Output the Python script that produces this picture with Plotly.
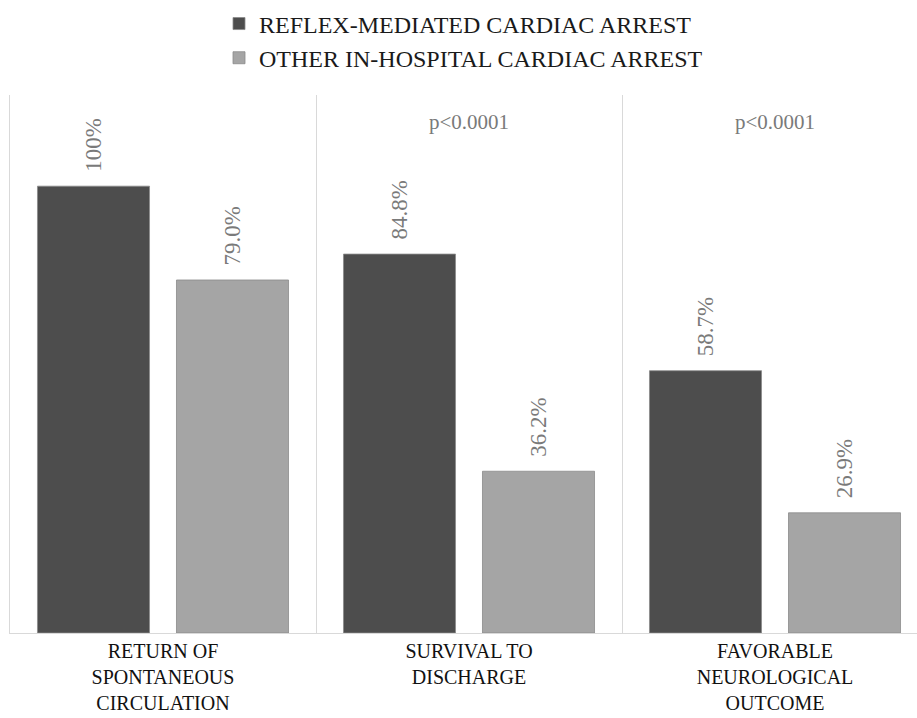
import plotly.graph_objects as go

# Outcome categories (tick labels wrap onto several lines)
categories = [
    "RETURN OF<br>SPONTANEOUS<br>CIRCULATION",
    "SURVIVAL TO<br>DISCHARGE",
    "FAVORABLE<br>NEUROLOGICAL<br>OUTCOME",
]
series_names = ["REFLEX-MEDIATED CARDIAC ARREST", "OTHER IN-HOSPITAL CARDIAC ARREST"]
reflex_pct = [100.0, 84.8, 58.7]
other_pct = [79.0, 36.2, 26.9]
p_values = ["", "p<0.0001", "p<0.0001"]

colors = ["#4d4d4d", "#a5a5a5"]
SERIF = "Liberation Serif, Times New Roman, serif"
PAD = "\u00a0\u00a0"


def pct_label(v):
    return f"{v:.0f}%" if v == 100 else f"{v:.1f}%"


fig = go.Figure()
for name, vals, col in zip(series_names, [reflex_pct, other_pct], colors):
    fig.add_trace(go.Bar(
        name=name,
        x=categories,
        y=vals,
        marker=dict(color=col, line=dict(color="#8a8a8a", width=0.8)),
        text=[PAD + pct_label(v) for v in vals],
        textposition="outside",
        textangle=-90,
        textfont=dict(family=SERIF, size=23, color="#7a7a7a"),
        cliponaxis=False,
    ))

for cat, p in zip(categories, p_values):
    if p:
        fig.add_annotation(x=cat, y=114.3, text=p, showarrow=False,
                           font=dict(family=SERIF, size=21, color="#7a7a7a"))

fig.update_layout(
    width=917, height=718,
    margin=dict(l=10, r=0, t=95, b=85, autoexpand=False),
    paper_bgcolor="white", plot_bgcolor="white",
    barmode="group", bargap=0.0915, bargroupgap=0.194,
    legend=dict(
        orientation="v", x=0.5, xanchor="center", xref="paper",
        y=0.998, yanchor="top", yref="container",
        font=dict(family=SERIF, size=24, color="#1a1a1a"),
        tracegroupgap=0, itemwidth=30,
    ),
    xaxis=dict(
        range=[-0.5, 2.464], tickson="boundaries", showgrid=True,
        gridcolor="#d9d9d9", gridwidth=1.3, showline=True, linecolor="#d9d9d9",
        linewidth=1.3, ticks="", ticklabelstandoff=0, automargin=False,
        tickfont=dict(family=SERIF, size=20, color="#111"),
    ),
    yaxis=dict(
        range=[0, 120.4], showgrid=False, showticklabels=False, zeroline=False,
        showline=True, linecolor="#d9d9d9", linewidth=1.3, ticks="",
        automargin=False,
    ),
)

fig.write_html("out.html")
